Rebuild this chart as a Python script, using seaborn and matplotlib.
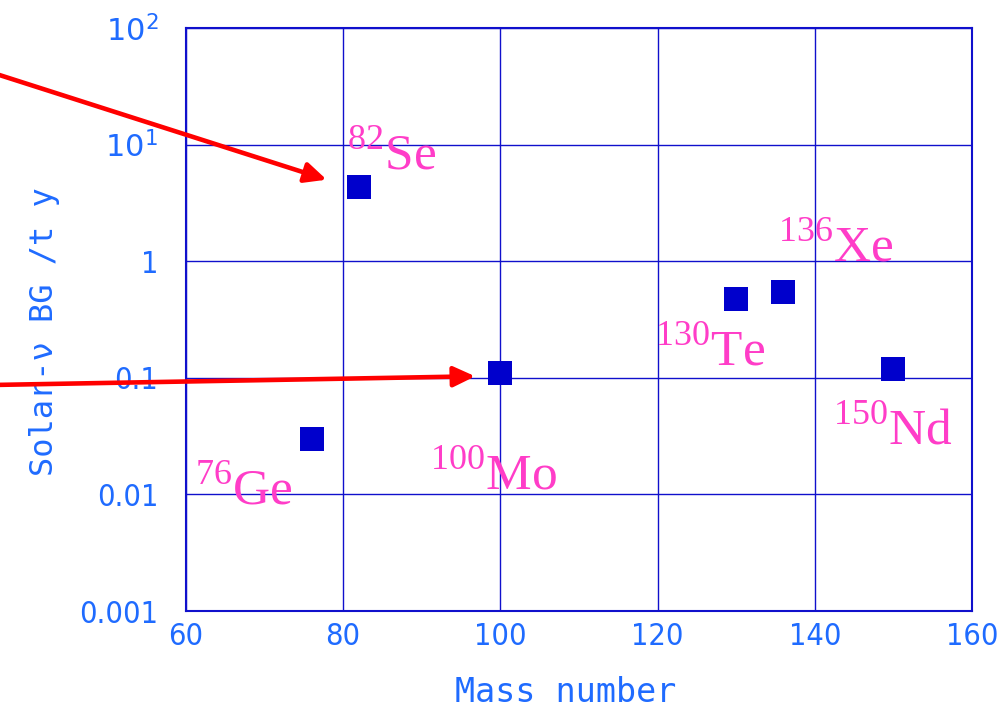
import numpy as np
import pandas as pd
import matplotlib
matplotlib.use("Agg")
import matplotlib.pyplot as plt
import seaborn as sns

# Isotopes and their solar-neutrino background rates
isotopes = ["76Ge", "82Se", "100Mo", "130Te", "136Xe", "150Nd"]
mass_number = [76, 82, 100, 130, 136, 150]
solar_bg = [0.030, 4.35, 0.110, 0.47, 0.54, 0.119]

# Label text (mass number superscript + element) and anchor positions
label_mass = ["76", "82", "100", "130", "136", "150"]
label_elem = ["Ge", "Se", "Mo", "Te", "Xe", "Nd"]
label_x = [61.1, 80.5, 91.0, 119.7, 135.3, 142.3]
label_y = [0.0082, 6.1, 0.011, 0.127, 0.99, 0.0267]

# Axis ticks
x_ticks = [60, 80, 100, 120, 140, 160]
y_ticks = [0.001, 0.01, 0.1, 1, 10, 100]
y_tick_labels = ["0.001", "0.01", "0.1", "1", r"$\mathsf{10^{1}}$", r"$\mathsf{10^{2}}$"]

# Arrow tips (data) and tails (figure fraction)
arrow_tips = [(77.9, 5.0), (96.8, 0.103)]
arrow_tails = [(-0.01, 0.8986), (-0.01, 0.4577)]

sns.set_style("white")
plt.rcParams["mathtext.fontset"] = "custom"
plt.rcParams["mathtext.rm"] = "Liberation Serif"
plt.rcParams["mathtext.sf"] = "DejaVu Sans"

tick_color = "#1F6BFF"
grid_color = "#1010CC"
pink = "#FF3DC8"

df = pd.DataFrame({"mass": mass_number, "bg": solar_bg, "iso": isotopes})

fig = plt.figure(figsize=(10.01, 7.10), dpi=100)
ax = fig.add_axes([0.1858, 0.1394, 0.7852, 0.8212])

sns.scatterplot(data=df, x="mass", y="bg", marker="s", s=300,
                color="#0000CC", linewidth=0, ax=ax, zorder=3)

ax.set_yscale("log")
ax.set_xlim(60, 160)
ax.set_ylim(0.001, 100)
ax.set_xticks(x_ticks)
ax.set_yticks(y_ticks)
ax.minorticks_off()
ax.set_yticklabels(y_tick_labels)
ax.set_xticklabels([str(v) for v in x_ticks])

ax.tick_params(axis="both", length=0, colors=tick_color, labelsize=22)
ax.tick_params(axis="x", pad=8)
ax.tick_params(axis="y", pad=20)
for lab in ax.get_xticklabels() + ax.get_yticklabels():
    lab.set_family("DejaVu Sans")
    lab.set_fontstretch("condensed")

ax.grid(True, color=grid_color, linewidth=1.0)
for sp in ax.spines.values():
    sp.set_color(grid_color)
    sp.set_linewidth(1.5)

ax.set_xlabel("Mass number", color=tick_color, fontsize=24,
              family="DejaVu Sans Mono")
ax.set_ylabel("Solar-ν BG /t y", color=tick_color, fontsize=23,
              family="DejaVu Sans Mono")
ax.xaxis.set_label_coords(0.4835, -0.112)
ax.yaxis.set_label_coords(-0.160, 0.479)

for m, e, lx, ly in zip(label_mass, label_elem, label_x, label_y):
    ax.text(lx, ly, r"$^{%s}\mathrm{%s}$" % (m, e), color=pink,
            fontsize=37, ha="left", va="baseline", zorder=4)

for tip, tail in zip(arrow_tips, arrow_tails):
    ax.annotate("", xy=tip, xycoords="data", xytext=tail,
                textcoords="figure fraction", annotation_clip=False,
                arrowprops=dict(arrowstyle="-|>,head_length=1.0,head_width=0.47",
                                mutation_scale=13, lw=3.3, color="#FF0000",
                                shrinkA=0, shrinkB=0), zorder=5)

fig.savefig("out.png", dpi=100)
